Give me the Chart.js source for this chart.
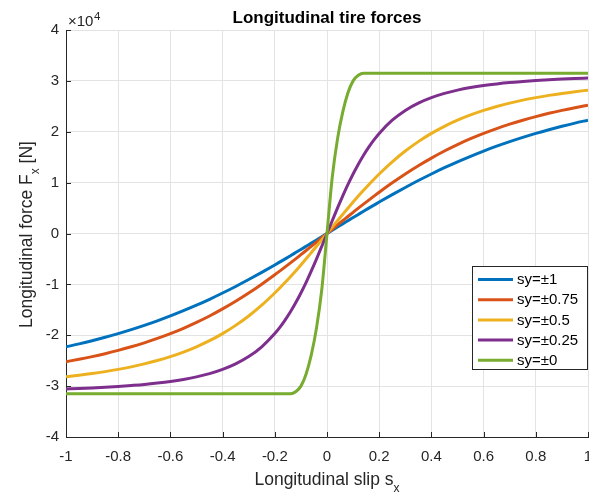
<!DOCTYPE html>
<html><head><meta charset="utf-8">
<script src="https://cdn.jsdelivr.net/npm/chart.js@4.4.0/dist/chart.umd.min.js"></script>
<style>html,body{margin:0;padding:0;background:#fff;}canvas{display:block;}</style>
</head><body>
<canvas id="c" width="589" height="497"></canvas>
<script>
// Longitudinal slip (x) and longitudinal force (units of 1e4 N)
const slip = [-1,-0.95,-0.9,-0.85,-0.8,-0.75,-0.7,-0.65,-0.6,-0.55,-0.5,-0.45,-0.4,-0.35,-0.3,-0.25,
  -0.2,-0.18,-0.16,-0.14,-0.12,-0.1,-0.08,-0.06,-0.04,-0.02,0,0.02,0.04,0.06,0.08,0.1,0.12,0.14,0.16,0.18,0.2,
  0.25,0.3,0.35,0.4,0.45,0.5,0.55,0.6,0.65,0.7,0.75,0.8,0.85,0.9,0.95,1];
const fxSy1 = [-2.227,-2.170,-2.107,-2.040,-1.968,-1.890,-1.806,-1.717,-1.621,-1.518,-1.409,-1.293,-1.170,-1.041,-0.905,-0.764,
  -0.618,-0.558,-0.498,-0.437,-0.375,-0.313,-0.251,-0.189,-0.126,-0.063,0,0.063,0.126,0.189,0.251,0.313,0.375,0.437,0.498,0.558,0.618,
  0.764,0.905,1.041,1.170,1.293,1.409,1.518,1.621,1.717,1.806,1.890,1.968,2.040,2.107,2.170,2.227];
const fxSy075 = [-2.520,-2.472,-2.420,-2.362,-2.298,-2.227,-2.149,-2.063,-1.968,-1.863,-1.747,-1.621,-1.482,-1.332,-1.170,-0.996,
  -0.812,-0.735,-0.657,-0.578,-0.498,-0.416,-0.334,-0.251,-0.168,-0.084,0,0.084,0.168,0.251,0.334,0.416,0.498,0.578,0.657,0.735,0.812,
  0.996,1.170,1.332,1.482,1.621,1.747,1.863,1.968,2.063,2.149,2.227,2.298,2.362,2.420,2.472,2.520];
const fxSy05 = [-2.818,-2.788,-2.754,-2.715,-2.671,-2.621,-2.563,-2.497,-2.420,-2.331,-2.227,-2.107,-1.968,-1.806,-1.621,-1.409,
  -1.170,-1.067,-0.960,-0.849,-0.735,-0.618,-0.498,-0.375,-0.251,-0.126,0,0.126,0.251,0.375,0.498,0.618,0.735,0.849,0.960,1.067,1.170,
  1.409,1.621,1.806,1.968,2.107,2.227,2.331,2.420,2.497,2.563,2.621,2.671,2.715,2.754,2.788,2.818];
const fxSy025 = [-3.056,-3.046,-3.035,-3.022,-3.007,-2.988,-2.967,-2.940,-2.908,-2.868,-2.818,-2.754,-2.671,-2.563,-2.420,-2.227,
  -1.968,-1.841,-1.698,-1.539,-1.363,-1.170,-0.960,-0.735,-0.498,-0.251,0,0.251,0.498,0.735,0.960,1.170,1.363,1.539,1.698,1.841,1.968,
  2.227,2.420,2.563,2.671,2.754,2.818,2.868,2.908,2.940,2.967,2.988,3.007,3.022,3.035,3.046,3.056];
const fxSy0 = [-3.15,-3.15,-3.15,-3.15,-3.15,-3.15,-3.15,-3.15,-3.15,-3.15,-3.15,-3.15,-3.15,-3.15,-3.15,-3.15,
  -3.15,-3.15,-3.15,-3.15,-3.11,-3.00,-2.76,-2.38,-1.85,-1.10,0,1.10,1.85,2.38,2.76,3.00,3.11,3.15,3.15,3.15,3.15,
  3.15,3.15,3.15,3.15,3.15,3.15,3.15,3.15,3.15,3.15,3.15,3.15,3.15,3.15,3.15,3.15];
const seriesLabels = ['sy=\u00b11','sy=\u00b10.75','sy=\u00b10.5','sy=\u00b10.25','sy=\u00b10'];
const seriesColors = ['#0072BD','#D95319','#EDB120','#7E2F8E','#77AC30'];
const xTicks = [-1,-0.8,-0.6,-0.4,-0.2,0,0.2,0.4,0.6,0.8,1];
const yTicks = [-4,-3,-2,-1,0,1,2,3,4];

const FONT = '"Liberation Sans", Arial, Helvetica, sans-serif';
const TXT = '#262626';
const allSeries = [fxSy1, fxSy075, fxSy05, fxSy025, fxSy0];

function drawParts(ctx, parts, cx, baseY) {
  let total = 0;
  parts.forEach(p => { ctx.font = p.font; p.w = ctx.measureText(p.t).width; total += p.w; });
  let x = cx - total / 2;
  parts.forEach(p => { ctx.font = p.font; ctx.fillText(p.t, x, baseY + (p.dy || 0)); x += p.w; });
}

const decor = {
  id: 'decor',
  afterDraw(chart) {
    const { ctx, chartArea: a, scales: { x, y } } = chart;
    ctx.save();
    // inward tick marks
    ctx.strokeStyle = TXT; ctx.lineWidth = 1;
    ctx.beginPath();
    xTicks.forEach(v => { const px = Math.round(x.getPixelForValue(v)) + 0.5; ctx.moveTo(px, a.bottom); ctx.lineTo(px, a.bottom - 5); });
    yTicks.forEach(v => { const py = Math.round(y.getPixelForValue(v)) + 0.5; ctx.moveTo(a.left, py); ctx.lineTo(a.left + 5, py); });
    ctx.stroke();

    // legend
    const lx = 472.5, ly = 266.5, lw = 115, lh = 103;
    ctx.fillStyle = '#fff';
    ctx.fillRect(lx, ly, lw, lh);
    ctx.strokeStyle = TXT; ctx.lineWidth = 1;
    ctx.strokeRect(lx, ly, lw, lh);
    ctx.font = '15px ' + FONT;
    ctx.textBaseline = 'middle';
    ctx.textAlign = 'left';
    seriesLabels.forEach((lab, i) => {
      const ry = 279.5 + i * 20.2;
      ctx.strokeStyle = seriesColors[i]; ctx.lineWidth = 3;
      ctx.beginPath(); ctx.moveTo(478, ry); ctx.lineTo(513, ry); ctx.stroke();
      ctx.fillStyle = '#000';
      ctx.fillText(lab, 517, ry + 0.5);
    });

    ctx.textBaseline = 'alphabetic';
    ctx.fillStyle = '#000';
    // title
    ctx.textAlign = 'center';
    ctx.font = 'bold 17px ' + FONT;
    ctx.fillText('Longitudinal tire forces', (a.left + a.right) / 2, 23);

    // exponent label
    ctx.textAlign = 'left';
    ctx.fillStyle = TXT;
    ctx.font = '15px ' + FONT;
    ctx.fillText('\u00d710', 68, 26);
    const w10 = ctx.measureText('\u00d710').width;
    ctx.font = '11.5px ' + FONT;
    ctx.fillText('4', 68 + w10 + 0.5, 20);

    // x axis label
    ctx.fillStyle = TXT;
    drawParts(ctx, [
      { t: 'Longitudinal slip s', font: '17.5px ' + FONT },
      { t: 'x', font: '12px ' + FONT, dy: 7 }
    ], (a.left + a.right) / 2, 485);

    // y axis label
    ctx.translate(32, (a.top + a.bottom) / 2 + 1);
    ctx.rotate(-Math.PI / 2);
    drawParts(ctx, [
      { t: 'Longitudinal force F', font: '17.5px ' + FONT },
      { t: 'x', font: '12px ' + FONT, dy: 7 },
      { t: ' [N]', font: '17.5px ' + FONT }
    ], 0, 0);
    ctx.restore();
  }
};

const datasets = allSeries.map((vals, i) => ({
  label: seriesLabels[i],
  data: slip.map((s, k) => ({ x: s, y: vals[k] })),
  borderColor: seriesColors[i],
  borderWidth: 3,
  pointRadius: 0,
  fill: false,
  cubicInterpolationMode: 'monotone',
  order: 5 - i
}));

new Chart(document.getElementById('c'), {
  type: 'line',
  data: { datasets },
  plugins: [decor],
  options: {
    responsive: false,
    animation: false,
    devicePixelRatio: 1,
    layout: { padding: { top: 30, left: 0, right: 1, bottom: 0 } },
    plugins: { legend: { display: false }, title: { display: false }, tooltip: { enabled: false } },
    scales: {
      x: {
        type: 'linear', min: -1, max: 1,
        afterBuildTicks: s => { s.ticks = xTicks.map(v => ({ value: v })); },
        afterFit: s => { s.height = 60; s.paddingLeft = 0; s.paddingRight = 0; },
        grid: { color: '#e3e3e3', drawTicks: false },
        border: { color: TXT, width: 1 },
        ticks: { padding: 11, color: TXT, font: { family: FONT, size: 15 }, maxRotation: 0,
          callback: v => String(Math.round(v * 10) / 10) }
      },
      y: {
        type: 'linear', min: -4, max: 4,
        afterBuildTicks: s => { s.ticks = yTicks.map(v => ({ value: v })); },
        afterFit: s => { s.width = 66; s.paddingTop = 0; s.paddingBottom = 0; },
        grid: { color: '#e3e3e3', drawTicks: false },
        border: { color: TXT, width: 1 },
        ticks: { padding: 7, color: TXT, font: { family: FONT, size: 15 },
          callback: v => String(v) }
      }
    }
  }
});
</script>
</body></html>
